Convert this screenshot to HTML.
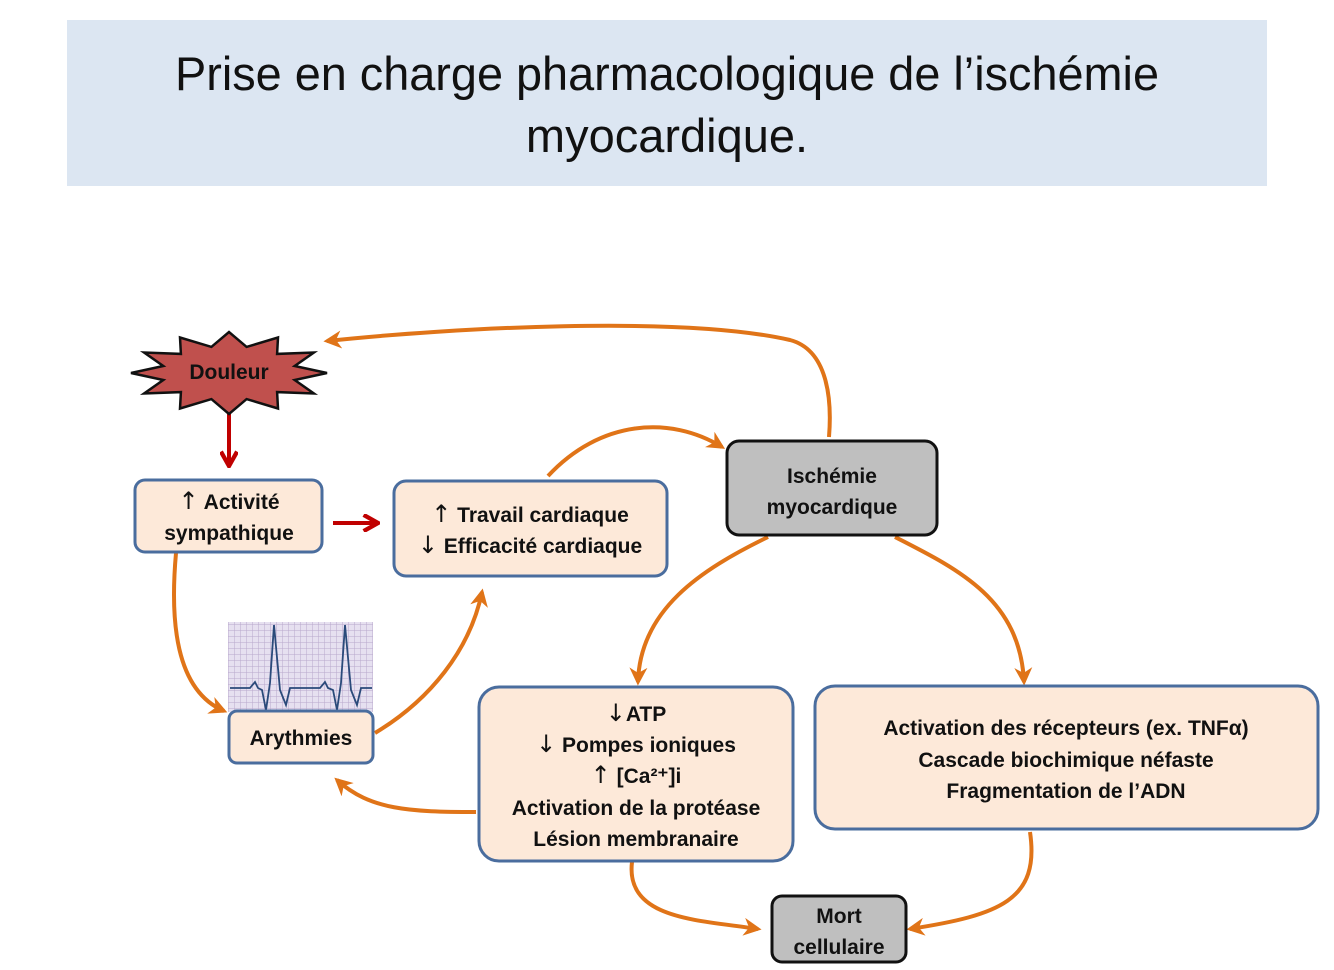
<!DOCTYPE html>
<html><head><meta charset="utf-8"><style>
html,body{margin:0;padding:0;background:#fff;}
svg{display:block;}
text{font-family:"Liberation Sans",sans-serif;}
.b{font-weight:bold;font-size:21px;fill:#111;}
.ar{font-family:"DejaVu Sans",sans-serif;font-weight:normal;font-size:24px;}
</style></head><body>
<svg width="1334" height="970" viewBox="0 0 1334 970" xmlns="http://www.w3.org/2000/svg">
<defs>
<marker id="ao" viewBox="0 0 10 10" refX="8" refY="5" markerWidth="4.5" markerHeight="4.5" orient="auto"><path d="M0,0 L10,5 L0,10 L3,5 z" fill="#e07418"/></marker>
<marker id="ar" viewBox="0 0 10 10" refX="9" refY="5" markerWidth="4.5" markerHeight="4.5" orient="auto"><path d="M1,0.5 L9,5 L1,9.5" fill="none" stroke="#c00000" stroke-width="2.4"/></marker>
<pattern id="grid" width="6" height="6" patternUnits="userSpaceOnUse"><rect width="6" height="6" fill="#e6e0f0"/><path d="M0,0 H6 M0,0 V6" stroke="#b8a8cc" stroke-width="1"/></pattern>
</defs>
<rect x="67" y="20" width="1200" height="166" fill="#dce6f2"/>
<text x="667" y="90" text-anchor="middle" font-size="47" fill="#111" textLength="984" lengthAdjust="spacingAndGlyphs">Prise en charge pharmacologique de l’ischémie</text>
<text x="667" y="152" text-anchor="middle" font-size="47" fill="#111">myocardique.</text>

<g fill="none" stroke="#e07418" stroke-width="4" marker-end="url(#ao)">
<path d="M829,437 C832,400 828,350 790,340 C680,315 450,328 327,341"/>
<path d="M548,476 C600,420 670,415 722,447"/>
<path d="M768,537 C700,570 640,610 638,682"/>
<path d="M895,537 C960,570 1020,600 1024,682"/>
<path d="M176,553 C170,620 175,690 224,711"/>
<path d="M375,733 C430,700 470,650 482,592"/>
<path d="M476,812 C410,812 370,810 337,780"/>
<path d="M632,862 C625,920 700,920 758,929"/>
<path d="M1030,832 C1040,900 1000,915 910,929"/>
</g>
<g stroke="#c00000" stroke-width="4" fill="none" marker-end="url(#ar)">
<path d="M229,414 V466"/>
<path d="M333,523 H378"/>
</g>

<polygon points="327,373 294.7,380 313.9,393.5 277.1,392.1 278,408.5 246.6,399.1 229,414 211.4,399.1 180,408.5 180.9,392.1 144.1,393.5 163.3,380 131,373 163.3,366 144.1,352.5 180.9,353.9 180,337.5 211.4,346.9 229,332 246.6,346.9 278,337.5 277.1,353.9 313.9,352.5 294.7,366" fill="#c0504d" stroke="#111" stroke-width="2.5"/>
<text x="229" y="379" text-anchor="middle" class="b" font-size="20">Douleur</text>

<rect x="135" y="480" width="187" height="72" rx="10" fill="#fde9d9" stroke="#4a6d9e" stroke-width="3"/>
<text x="229" y="509" text-anchor="middle" class="b"><tspan class="ar">↑</tspan> Activité</text>
<text x="229" y="540" text-anchor="middle" class="b">sympathique</text>

<rect x="394" y="481" width="273" height="95" rx="12" fill="#fde9d9" stroke="#4a6d9e" stroke-width="3"/>
<text x="530" y="522" text-anchor="middle" class="b"><tspan class="ar">↑</tspan> Travail cardiaque</text>
<text x="530" y="553" text-anchor="middle" class="b"><tspan class="ar">↓</tspan> Efficacité cardiaque</text>

<rect x="727" y="441" width="210" height="94" rx="12" fill="#bfbfbf" stroke="#111" stroke-width="3"/>
<text x="832" y="483" text-anchor="middle" class="b">Ischémie</text>
<text x="832" y="514" text-anchor="middle" class="b">myocardique</text>

<rect x="228" y="622" width="145" height="90" fill="url(#grid)"/>
<path d="M230,688 L250,688 L255,682 L258,688 L262,690 L266,710 L270,683 L274,625 L280,690 L286,705 L290,688 L320,688 L325,682 L328,688 L333,690 L337,710 L341,683 L345,625 L351,690 L357,705 L361,688 L372,688" fill="none" stroke="#2a4a7a" stroke-width="1.8"/>

<rect x="229" y="711" width="144" height="52" rx="8" fill="#fde9d9" stroke="#4a6d9e" stroke-width="3"/>
<text x="301" y="745" text-anchor="middle" class="b">Arythmies</text>

<rect x="479" y="687" width="314" height="174" rx="20" fill="#fde9d9" stroke="#4a6d9e" stroke-width="3"/>
<text x="636" y="721" class="b" text-anchor="middle"><tspan class="ar">↓</tspan>ATP</text>
<text x="636" y="752" class="b" text-anchor="middle"><tspan class="ar">↓</tspan> Pompes ioniques</text>
<text x="636" y="783" class="b" text-anchor="middle"><tspan class="ar">↑</tspan> [Ca²⁺]i</text>
<text x="636" y="815" class="b" text-anchor="middle">Activation de la protéase</text>
<text x="636" y="846" class="b" text-anchor="middle">Lésion membranaire</text>

<rect x="815" y="686" width="503" height="143" rx="20" fill="#fde9d9" stroke="#4a6d9e" stroke-width="3"/>
<text x="1066" y="735" class="b" text-anchor="middle">Activation des récepteurs (ex. TNFα)</text>
<text x="1066" y="767" class="b" text-anchor="middle">Cascade biochimique néfaste</text>
<text x="1066" y="798" class="b" text-anchor="middle">Fragmentation de l’ADN</text>

<rect x="772" y="896" width="134" height="66" rx="10" fill="#bfbfbf" stroke="#111" stroke-width="3"/>
<text x="839" y="923" class="b" text-anchor="middle">Mort</text>
<text x="839" y="954" class="b" text-anchor="middle">cellulaire</text>
</svg>
</body></html>
